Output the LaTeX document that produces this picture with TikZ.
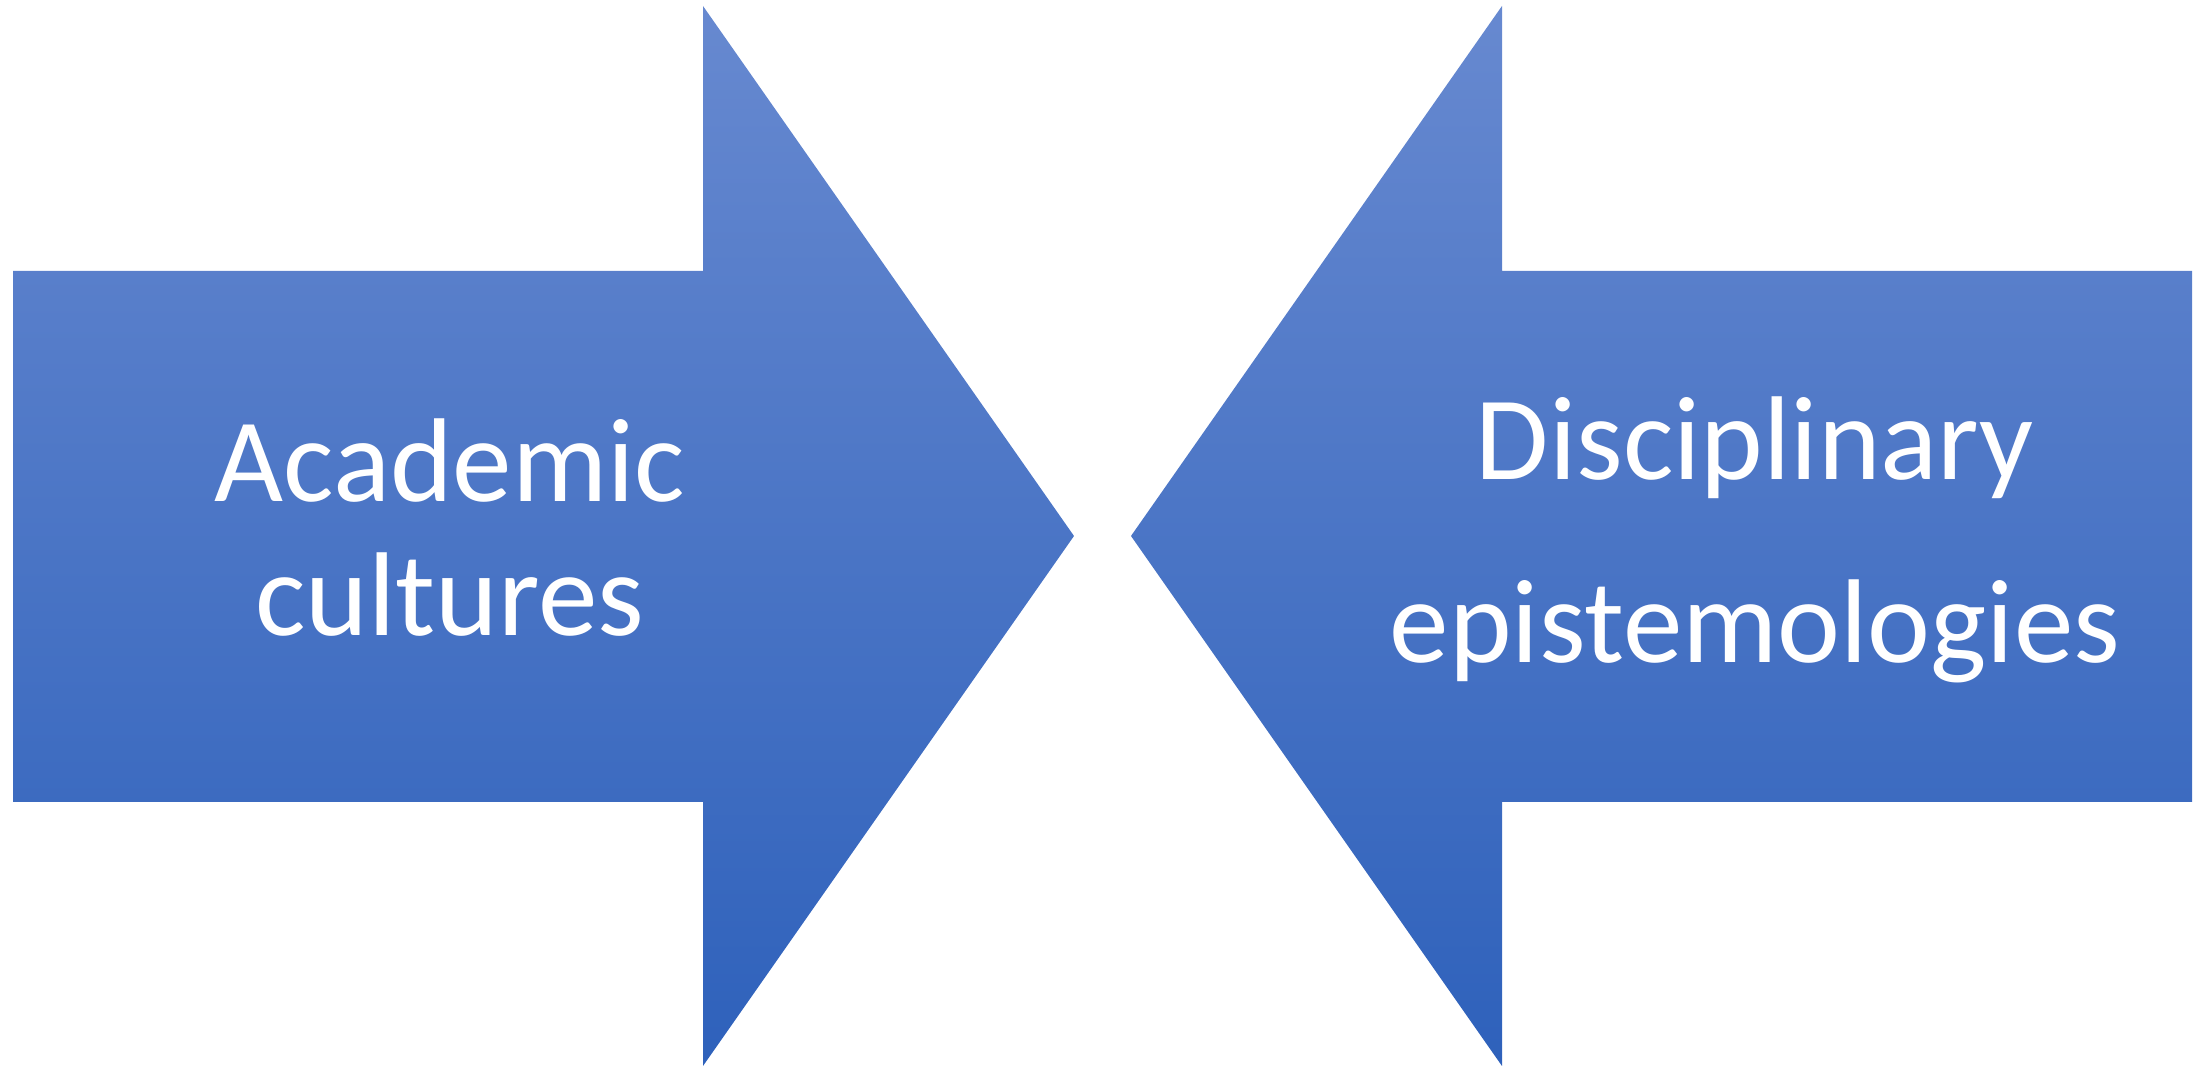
\documentclass[tikz,border=0pt]{standalone}
\usepackage{fontspec}
\setmainfont{Carlito}
\definecolor{arrowtop}{RGB}{103,137,208}
\definecolor{arrowbottom}{RGB}{46,97,187}
\begin{document}
\begin{tikzpicture}[x=0.01cm,y=0.01cm,
	convarrow/.style={top color=arrowtop,bottom color=arrowbottom},
	arrowtext/.style={text=white,align=center,inner sep=0pt}]
	\useasboundingbox (0,0) rectangle (2205,1067);
	\coordinate (la) at (13,796);
	\coordinate (lb) at (703,796);
	\coordinate (lc) at (703,1061);
	\coordinate (ltip) at (1074,531);
	\coordinate (ld) at (703,1);
	\coordinate (le) at (703,265);
	\coordinate (lf) at (13,265);
	\coordinate (ra) at (2192,796);
	\coordinate (rb) at (1502,796);
	\coordinate (rc) at (1502,1061);
	\coordinate (rtip) at (1131,531);
	\coordinate (rd) at (1502,1);
	\coordinate (re) at (1502,265);
	\coordinate (rf) at (2192,265);
	\shade[convarrow] (la) -- (lb) -- (lc) -- (ltip) -- (ld) -- (le) -- (lf) -- cycle;
	\shade[convarrow] (ra) -- (rb) -- (rc) -- (rtip) -- (rd) -- (re) -- (rf) -- cycle;
	\node[arrowtext,font=\fontsize{33.9}{38.1}\selectfont] (academic) at (450,539) {Academic\\cultures};
	\node[arrowtext,font=\fontsize{33.9}{52.1}\selectfont] (disciplinary) at (1755,527) {Disciplinary\\epistemologies};
\end{tikzpicture}
\end{document}
